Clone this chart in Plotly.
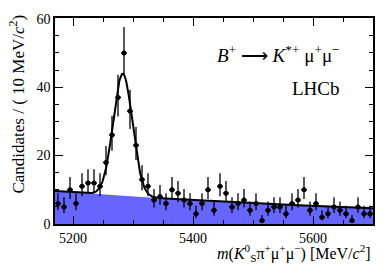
import numpy as np
import plotly.graph_objects as go

# Data: bin centres (10 MeV bins) and candidate counts
bin_centers = [5175 + 10 * i for i in range(53)]
counts = [6, 5, 10, 6, 11, 12, 12, 11, 18, 26,
          37, 50, 33, 23, 13, 11, 7, 8, 6, 10,
          9, 7, 6, 3, 6, 10, 4, 11, 9, 5,
          6, 7, 4, 6, 1, 4, 5, 5, 3, 6,
          7, 10, 4, 6, 2, 3, 5, 4, 3, 1,
          5, 3, 3]

# Fit model parameters
bkg_at_start = 9.65      # candidates / bin at 5170
bkg_slope = -0.00140     # exponential slope per MeV
sig_peak = 35.7
sig_mean = 5283.0
sig_sigma = 16.0

x_lo, x_hi = 5170, 5700
y_lo, y_hi = 0, 60.2

n = np.array(counts, dtype=float)
err_up = 0.5 + np.sqrt(n + 0.25)
err_dn = -0.5 + np.sqrt(n + 0.25)

xf = np.linspace(x_lo, x_hi, 600)
bkg = bkg_at_start * np.exp(bkg_slope * (xf - x_lo))
total = bkg + sig_peak * np.exp(-0.5 * ((xf - sig_mean) / sig_sigma) ** 2)

serif = "Liberation Serif, Times New Roman, serif"

fig = go.Figure()
fig.add_trace(go.Scatter(x=xf, y=bkg, mode="lines", fill="tozeroy",
                         fillcolor="#6666ff", line=dict(color="#6666ff", width=0),
                         hoverinfo="skip"))
fig.add_trace(go.Scatter(x=xf, y=total, mode="lines",
                         line=dict(color="black", width=2), hoverinfo="skip"))
fig.add_trace(go.Scatter(x=bin_centers, y=counts, mode="markers",
                         marker=dict(color="black", size=5),
                         error_y=dict(type="data", symmetric=False, array=err_up,
                                      arrayminus=err_dn, color="black",
                                      thickness=1.3, width=0),
                         error_x=dict(type="constant", value=5, color="black",
                                      thickness=1.3, width=0)))

axis_common = dict(showline=True, linecolor="black", linewidth=1.5, mirror="ticks",
                   ticks="inside", tickcolor="black", showgrid=False, zeroline=False,
                   tickfont=dict(family=serif, size=14, color="black"))

fig.update_xaxes(range=[x_lo, x_hi], tickvals=[5200, 5400, 5600], ticklen=8,
                 minor=dict(dtick=50, tick0=5200, ticks="inside", ticklen=4,
                            tickcolor="black"),
                 **axis_common)
fig.update_yaxes(range=[y_lo, y_hi], tickvals=[0, 20, 40, 60], ticklen=8,
                 minor=dict(dtick=5, tick0=0, ticks="inside", ticklen=4,
                            tickcolor="black"),
                 **axis_common)

fig.add_annotation(text="<i>B</i><sup>+</sup> ⟶ <i>K</i><sup>*+</sup> μ<sup>+</sup>μ<sup>−</sup>",
                   xref="paper", yref="paper", x=0.903, y=0.823, xanchor="right",
                   yanchor="middle", showarrow=False,
                   font=dict(family=serif, size=19, color="black"))
fig.add_annotation(text="LHCb", xref="paper", yref="paper", x=0.903, y=0.66,
                   xanchor="right", yanchor="middle", showarrow=False,
                   font=dict(family=serif, size=19, color="black"))
fig.add_annotation(text="Candidates / ( 10 MeV/<i>c</i><sup>2</sup>)",
                   xref="paper", yref="paper", x=-0.118, y=1.026, xanchor="center",
                   yanchor="top", textangle=-90, showarrow=False,
                   font=dict(family=serif, size=17, color="black"))
fig.add_annotation(text="<i>m</i>(<i>K</i><sup>0</sup><sub>S</sub>π<sup>+</sup>μ<sup>+</sup>μ<sup>−</sup>) [MeV/<i>c</i><sup>2</sup>]",
                   xref="paper", yref="paper", x=1.0, y=-0.08, xanchor="right",
                   yanchor="top", showarrow=False,
                   font=dict(family=serif, size=16, color="black"))

fig.update_layout(width=392, height=267, margin=dict(l=55, r=19, t=15, b=43),
                  paper_bgcolor="white", plot_bgcolor="white", showlegend=False)

fig.write_html("out.html", config={"displayModeBar": False},
               post_script="document.body.style.margin='0';")
